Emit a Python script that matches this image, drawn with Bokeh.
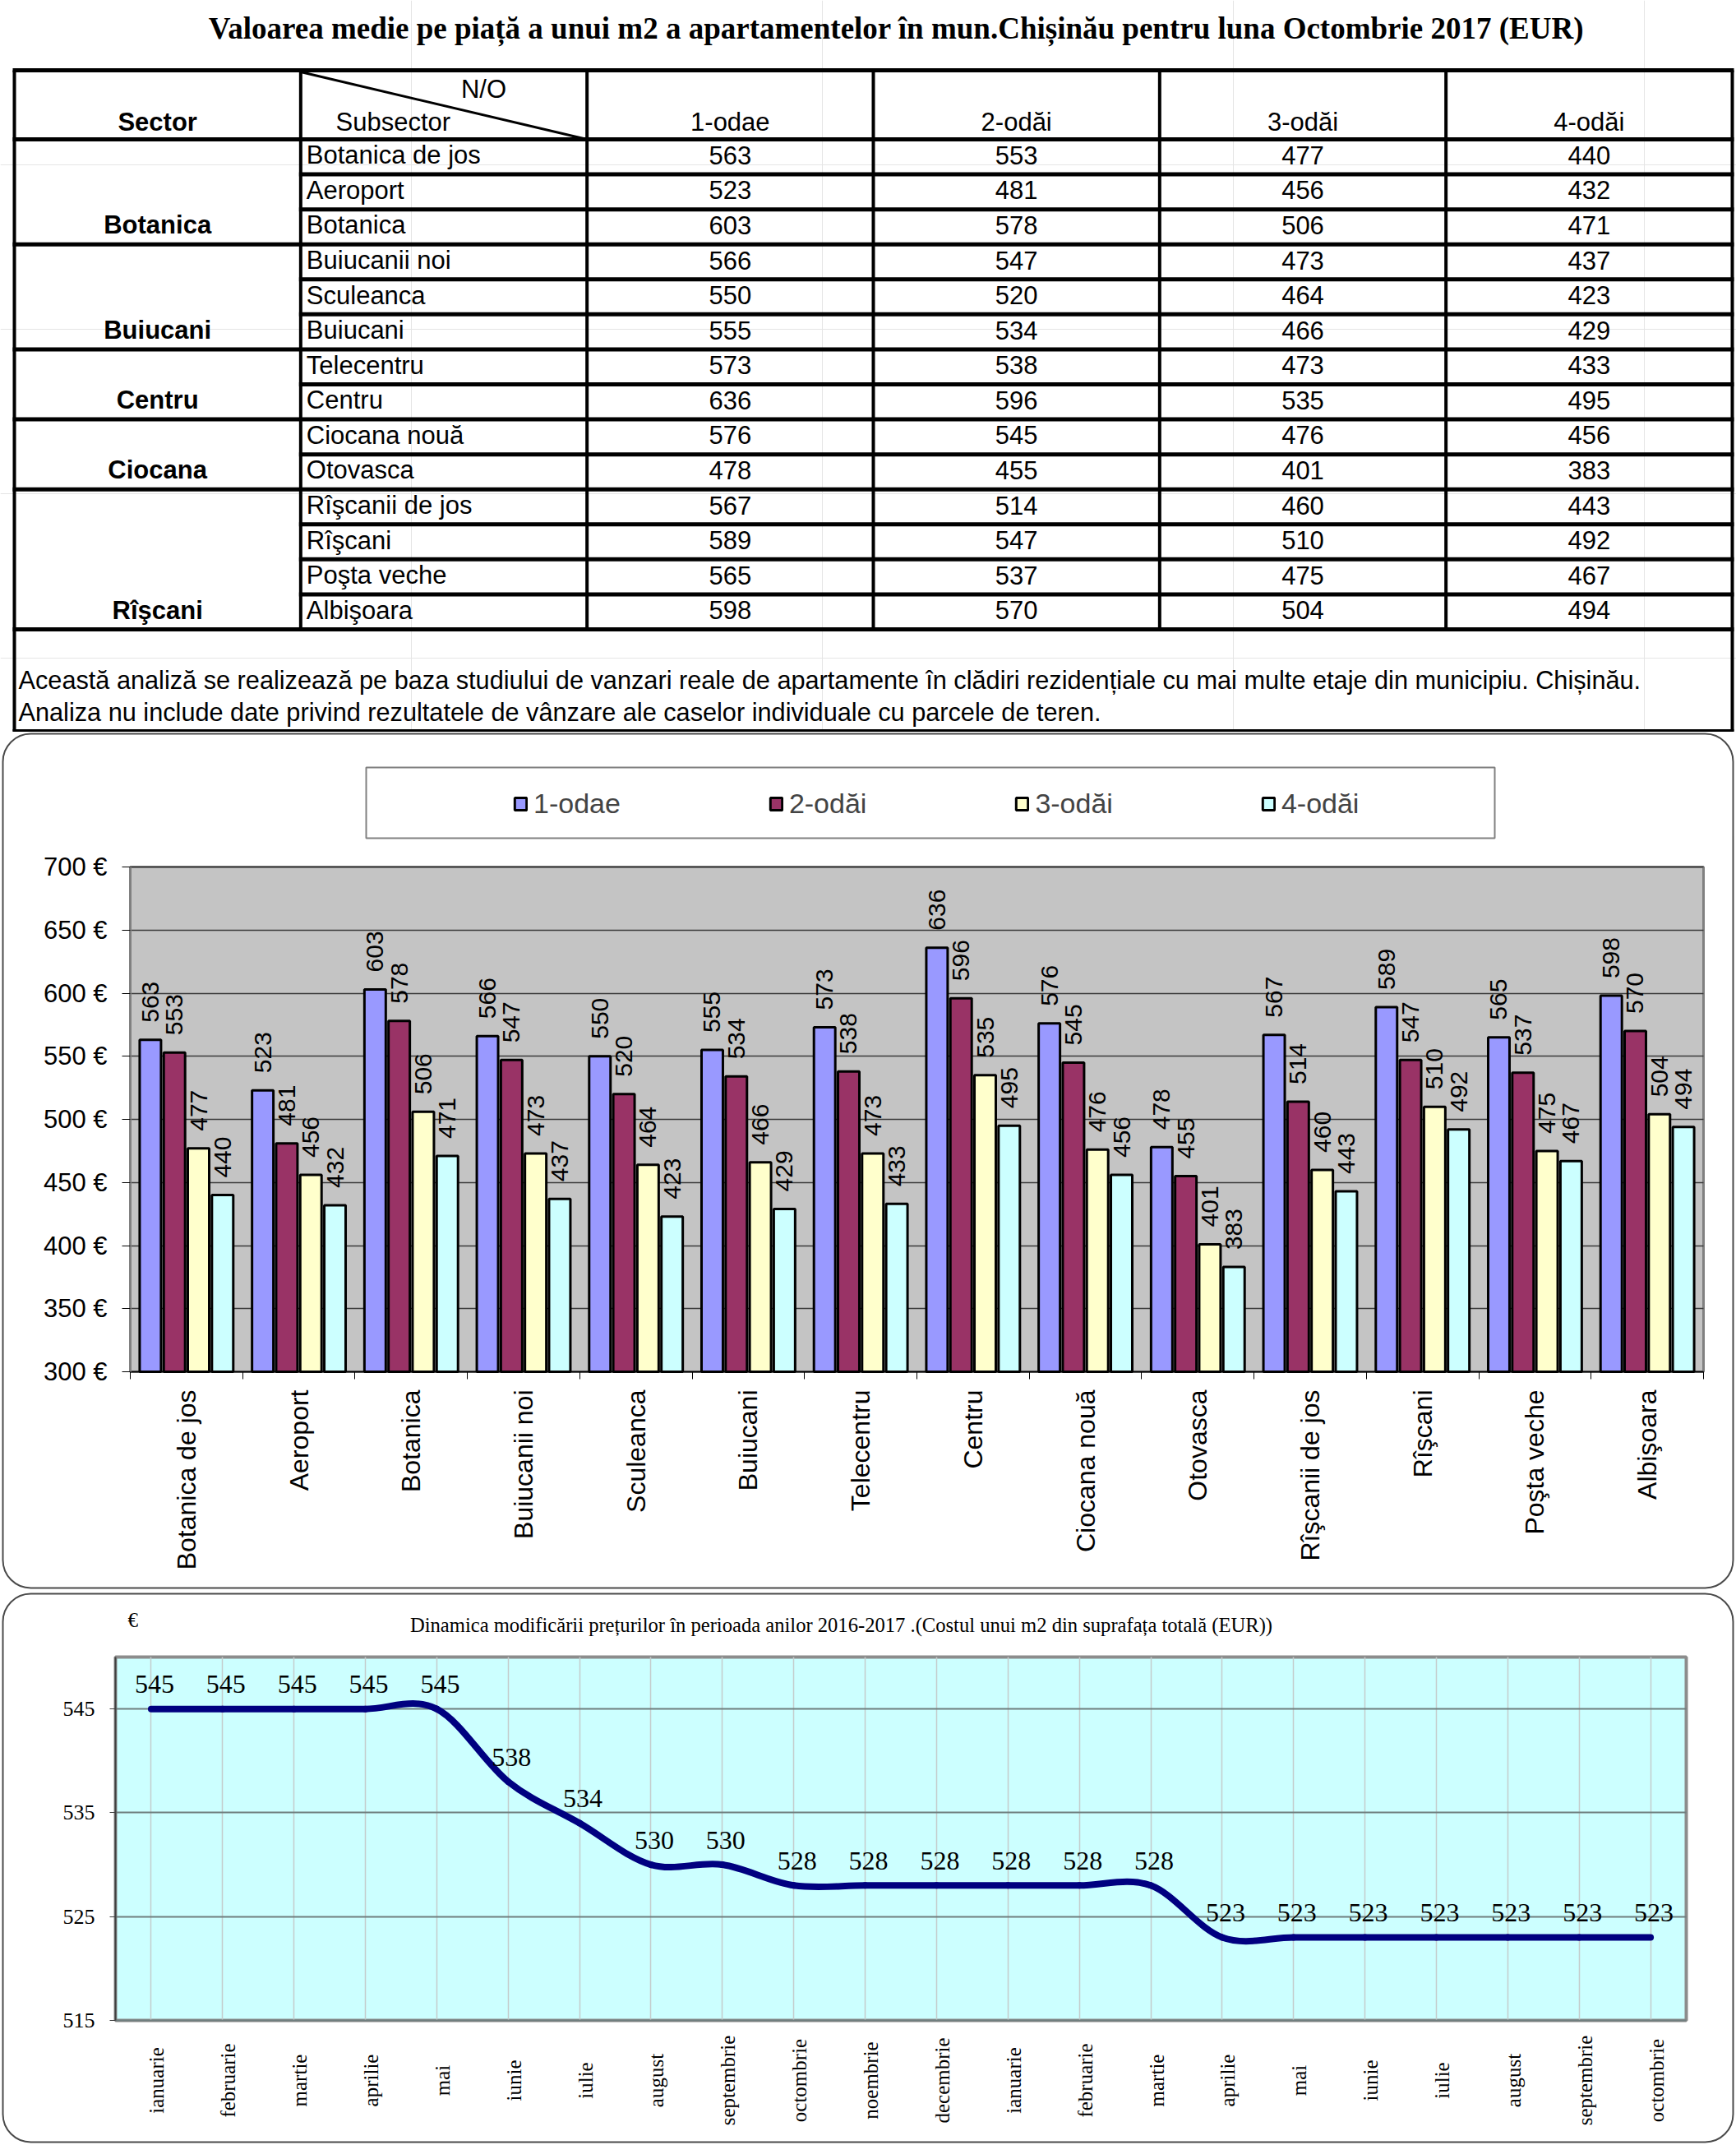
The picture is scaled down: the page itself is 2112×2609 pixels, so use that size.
import math
import numpy as np
from bokeh.plotting import figure
from bokeh.models import (ColumnDataSource, Range1d, FixedTicker, PrintfTickFormatter,
                          Legend, LegendItem, Grid)
from bokeh.layouts import column
from bokeh.embed import file_html
from bokeh.resources import INLINE
from bokeh.core.properties import value
from bokeh.transform import dodge

# ---------------- data ----------------
main_title = "Valoarea medie pe piață a unui m2 a apartamentelor în mun.Chișinău pentru luna Octombrie 2017 (EUR)"
header_sector = "Sector"
header_subsector = "Subsector"
header_no = "N/O"
room_types = ["1-odae", "2-odăi", "3-odăi", "4-odăi"]
sectors = ["Botanica", "Buiucani", "Centru", "Ciocana", "Rîşcani"]
sector_sizes = [3, 3, 2, 2, 4]
subsectors = ["Botanica de jos", "Aeroport", "Botanica", "Buiucanii noi", "Sculeanca", "Buiucani",
              "Telecentru", "Centru", "Ciocana nouă", "Otovasca", "Rîşcanii de jos", "Rîşcani",
              "Poşta veche", "Albişoara"]
price_1_odae = [563, 523, 603, 566, 550, 555, 573, 636, 576, 478, 567, 589, 565, 598]
price_2_odai = [553, 481, 578, 547, 520, 534, 538, 596, 545, 455, 514, 547, 537, 570]
price_3_odai = [477, 456, 506, 473, 464, 466, 473, 535, 476, 401, 460, 510, 475, 504]
price_4_odai = [440, 432, 471, 437, 423, 429, 433, 495, 456, 383, 443, 492, 467, 494]
note_lines = [
    "Această analiză se realizează pe baza studiului de vanzari reale de apartamente în clădiri rezidențiale cu mai multe etaje din municipiu. Chișinău.",
    "Analiza nu include date privind rezultatele de vânzare ale caselor individuale cu parcele de teren.",
]
bar_y_ticks = [300, 350, 400, 450, 500, 550, 600, 650, 700]

dyn_title = "Dinamica modificării prețurilor în perioada anilor 2016-2017 .(Costul unui m2 din suprafața totală (EUR))"
dyn_unit = "€"
months = ["ianuarie", "februarie", "martie", "aprilie", "mai", "iunie", "iulie", "august",
          "septembrie", "octombrie", "noembrie", "decembrie", "ianuarie", "februarie", "martie",
          "aprilie", "mai", "iunie", "iulie", "august", "septembrie", "octombrie"]
avg_price = [545, 545, 545, 545, 545, 538, 534, 530, 530, 528, 528, 528, 528, 528, 528,
             523, 523, 523, 523, 523, 523, 523]
dyn_y_ticks = [515, 525, 535, 545]

# ---------------- layout (page pixels) ----------------
W = 2112
TAB_TOP_PAGE, BAR_TOP, DYN_TOP, PAGE_BOT = 0, 890, 1934, 2608
TAB_H, BAR_H, DYN_H = BAR_TOP - TAB_TOP_PAGE, DYN_TOP - BAR_TOP, PAGE_BOT - DYN_TOP
SANS = "Liberation Sans"
SERIF = "Liberation Serif"
HAS_CROSS_BOUNDS = "cross_bounds" in Grid.properties()


def bare_fig(h, xr, yr, **kw):
    p = figure(width=W, height=h, x_range=xr, y_range=yr, output_backend="svg",
               toolbar_location=None, min_border=0, min_border_left=0, min_border_right=0,
               min_border_top=0, min_border_bottom=0, outline_line_color=None,
               background_fill_color="white", border_fill_color="white", **kw)
    return p


def mapper(left, right, top, bottom, x0, x1, y_top, y_bot):
    """pixel -> data mapping for a plot area spanning [left,right]x[top,bottom] pixels"""
    def xd(px):
        return x0 + (np.asarray(px, dtype=float) - left) / (right - left) * (x1 - x0)

    def yd(py):
        return y_top - (np.asarray(py, dtype=float) - top) / (bottom - top) * (y_top - y_bot)
    return xd, yd


# =============== TABLE ===============
TAB_L, TAB_R = 17, 2107
TAB_TOP, HEAD_BOT, TAB_BOT, NOTE_BOT = 85, 169, 765, 889
TFONT = "31px"

tab = bare_fig(TAB_H, Range1d(0, W), Range1d(TAB_H, 0),
               x_axis_location=None, y_axis_location=None)

n_rows = len(subsectors)
col_w = (TAB_R - TAB_L) / 6.0
col_x = [TAB_L + k * col_w for k in range(7)]
row_h = (TAB_BOT - HEAD_BOT) / n_rows
row_mid = [HEAD_BOT + (r + 0.5) * row_h - 2 for r in range(n_rows)]
group_end = [int(v) for v in np.cumsum(sector_sizes)]

hx0, hx1, hy = [], [], []
for yy in (TAB_TOP, HEAD_BOT, TAB_BOT, NOTE_BOT):
    hx0.append(TAB_L - 2); hx1.append(TAB_R + 2); hy.append(yy)
for k in range(1, n_rows):
    hx0.append((TAB_L if k in group_end else col_x[1]) - 2)
    hx1.append(TAB_R + 2)
    hy.append(HEAD_BOT + k * row_h)
tab.segment(x0=hx0, y0=hy, x1=hx1, y1=hy, line_width=5, line_color="black")

vx = [col_x[0], col_x[6]] + col_x[1:6]
vy1 = [NOTE_BOT, NOTE_BOT] + [TAB_BOT] * 5
tab.segment(x0=vx, y0=[TAB_TOP] * len(vx), x1=vx, y1=vy1, line_width=4, line_color="black")
tab.segment(x0=[col_x[1]], y0=[TAB_TOP + 2], x1=[col_x[2]], y1=[HEAD_BOT],
            line_width=3, line_color="black")

tab.text(x=[1090], y=[34], text=[main_title], text_font=value(SERIF),
         text_font_size="37px", text_font_style="bold", text_align="center",
         text_baseline="middle", text_color="black")

HEAD_MID = 148
sec_x = (col_x[0] + col_x[1]) / 2
bold_txt = [header_sector] + sectors
bold_y = [HEAD_MID] + [row_mid[e - 1] for e in group_end]
tab.text(x=[sec_x] * len(bold_txt), y=bold_y, text=bold_txt, text_font=value(SANS),
         text_font_size=TFONT, text_font_style="bold", text_align="center",
         text_baseline="middle", text_color="black")

c_x, c_y, c_t = [588], [108], [header_no]
for c, rt in enumerate(room_types):
    c_x.append((col_x[c + 2] + col_x[c + 3]) / 2); c_y.append(HEAD_MID); c_t.append(rt)
for c, series in enumerate([price_1_odae, price_2_odai, price_3_odai, price_4_odai]):
    cx = (col_x[c + 2] + col_x[c + 3]) / 2
    for r, v in enumerate(series):
        c_x.append(cx); c_y.append(row_mid[r]); c_t.append(str(v))
tab.text(x=c_x, y=c_y, text=c_t, text_font=value(SANS), text_font_size=TFONT,
         text_align="center", text_baseline="middle", text_color="black")

l_x = [408] + [col_x[1] + 7] * n_rows
l_y = [HEAD_MID] + row_mid
l_t = [header_subsector] + subsectors
tab.text(x=l_x, y=l_y, text=l_t, text_font=value(SANS), text_font_size=TFONT,
         text_align="left", text_baseline="middle", text_color="black")

tab.text(x=[22, 22], y=[827, 866], text=note_lines, text_font=value(SANS),
         text_font_size="30.7px", text_align="left", text_baseline="middle",
         text_color="black")

# =============== BAR CHART ===============
B_L, B_R, B_T, B_B = 158, 2072, 1054, 1668
NB = len(subsectors)
bxd, byd = mapper(B_L, B_R, B_T, B_B, -0.5, NB - 0.5, bar_y_ticks[-1], bar_y_ticks[0])

bar = bare_fig(BAR_H, Range1d(float(bxd(0)), float(bxd(W))),
               Range1d(float(byd(DYN_TOP)), float(byd(BAR_TOP))))

# outer rounded frame
bar.quad(left=[bxd(3)], right=[bxd(2108)], top=[byd(892)], bottom=[byd(1931)],
         fill_color=None, line_color="#4a4a4a", line_width=2, border_radius=34)
# plot area background & border
bar.quad(left=[-0.5], right=[NB - 0.5], bottom=[bar_y_ticks[0]], top=[bar_y_ticks[-1]],
         fill_color="#C4C4C4", line_color=None, level="image")
bar.quad(left=[-0.5], right=[NB - 0.5], bottom=[bar_y_ticks[0]], top=[bar_y_ticks[-1]],
         fill_color=None, line_color="#808080", line_width=3, level="underlay")
# legend box
bar.quad(left=[bxd(445)], right=[bxd(1818)], top=[byd(933)], bottom=[byd(1019)],
         fill_color="white", line_color="#808080", line_width=2)

bar.xgrid.visible = False
if HAS_CROSS_BOUNDS:
    g = bar.ygrid[0]
    g.ticker = FixedTicker(ticks=bar_y_ticks)
    g.bounds = (bar_y_ticks[0], bar_y_ticks[-1])
    g.cross_bounds = (-0.5, NB - 0.5)
    g.grid_line_color = "#3a3a3a"
    g.grid_line_width = 1.5
else:
    bar.ygrid.visible = False
    inner = bar_y_ticks[1:-1]
    bar.segment(x0=[-0.5] * len(inner), x1=[NB - 0.5] * len(inner), y0=inner, y1=inner,
                line_color="#3a3a3a", line_width=1.5, level="underlay")

bsrc = ColumnDataSource(dict(
    idx=list(range(NB)),
    v1=price_1_odae, v2=price_2_odai, v3=price_3_odai, v4=price_4_odai,
    t1=[str(v) for v in price_1_odae], t2=[str(v) for v in price_2_odai],
    t3=[str(v) for v in price_3_odai], t4=[str(v) for v in price_4_odai],
))
bar_colors = ["#9999FF", "#993366", "#FFFFCC", "#CCFFFF"]
pitch = 0.2143
offsets = [(k - 1.5) * pitch for k in range(4)]
items = []
for k in range(4):
    r = bar.vbar(x=dodge("idx", offsets[k]), top="v%d" % (k + 1), bottom=bar_y_ticks[0],
                 width=0.19, fill_color=bar_colors[k], line_color="black", line_width=3,
                 source=bsrc)
    bar.text(x=dodge("idx", offsets[k]), y="v%d" % (k + 1), text="t%d" % (k + 1), source=bsrc,
             angle=math.pi / 2, text_align="left", text_baseline="middle", y_offset=-21,
             text_font=value(SANS), text_font_size="30px", text_color="black")
    items.append(LegendItem(label=room_types[k], renderers=[r]))

legend = Legend(items=items, location=(624, BAR_H - (997 - BAR_TOP)), orientation="horizontal",
                padding=0, spacing=180, glyph_width=18, glyph_height=19, label_standoff=7,
                label_height=19, margin=0,
                label_text_font=SANS, label_text_font_size="34px",
                border_line_color=None, background_fill_alpha=0)
bar.add_layout(legend)

xa = bar.xaxis[0]
xa.fixed_location = bar_y_ticks[0]
xa.bounds = (-0.5, NB - 0.5)
xa.ticker = FixedTicker(ticks=list(range(NB)), minor_ticks=[i - 0.5 for i in range(NB + 1)])
xa.major_label_overrides = {i: s for i, s in enumerate(subsectors)}
xa.major_label_orientation = math.pi / 2
xa.major_tick_out = 0
xa.major_tick_in = 0
xa.minor_tick_out = 9
xa.minor_tick_in = 0
xa.minor_tick_line_color = "black"
xa.major_label_standoff = 13
xa.major_label_text_font = SANS
xa.major_label_text_font_size = "32px"
xa.major_label_text_color = "black"
xa.axis_line_color = "black"
xa.axis_line_width = 1.5

ya = bar.yaxis[0]
ya.fixed_location = -0.5
ya.bounds = (bar_y_ticks[0], bar_y_ticks[-1])
ya.ticker = FixedTicker(ticks=bar_y_ticks)
ya.formatter = PrintfTickFormatter(format="%d €")
ya.major_tick_out = 10
ya.major_tick_in = 0
ya.minor_tick_out = 0
ya.minor_tick_in = 0
ya.major_tick_line_color = "black"
ya.major_label_standoff = 18
ya.major_label_text_font = SANS
ya.major_label_text_font_size = "31px"
ya.major_label_text_color = "black"
ya.axis_line_color = "#808080"
ya.axis_line_width = 3

# =============== DYNAMICS LINE CHART ===============
L_L, L_R, L_T, L_B = 140, 2051, 2015, 2457
NM = len(months)
Y_LO, Y_HI = 515, 550
lxd, lyd = mapper(L_L, L_R, L_T, L_B, -0.5, NM - 0.5, Y_HI, Y_LO)

ln = bare_fig(DYN_H, Range1d(float(lxd(0)), float(lxd(W))),
              Range1d(float(lyd(PAGE_BOT)), float(lyd(DYN_TOP))))

ln.quad(left=[lxd(3)], right=[lxd(2108)], top=[lyd(1938)], bottom=[lyd(2605)],
        fill_color=None, line_color="#4a4a4a", line_width=2, border_radius=34)
ln.quad(left=[-0.5], right=[NM - 0.5], bottom=[Y_LO], top=[Y_HI],
        fill_color="#CCFFFF", line_color=None, level="image")
ln.quad(left=[-0.5], right=[NM - 0.5], bottom=[Y_LO], top=[Y_HI],
        fill_color=None, line_color="#8c8c8c", line_width=4, level="underlay")

if HAS_CROSS_BOUNDS:
    gx = ln.xgrid[0]
    gx.ticker = FixedTicker(ticks=list(range(NM)))
    gx.bounds = (-0.5, NM - 0.5)
    gx.cross_bounds = (Y_LO, Y_HI)
    gx.grid_line_color = "#c4cccc"
    gx.grid_line_width = 1.5
    gy = ln.ygrid[0]
    gy.ticker = FixedTicker(ticks=dyn_y_ticks)
    gy.bounds = (Y_LO, Y_HI)
    gy.cross_bounds = (-0.5, NM - 0.5)
    gy.grid_line_color = "#6f7f7f"
    gy.grid_line_width = 2
else:
    ln.xgrid.visible = False
    ln.ygrid.visible = False
    ln.segment(x0=list(range(NM)), x1=list(range(NM)), y0=[Y_LO] * NM, y1=[Y_HI] * NM,
               line_color="#c4cccc", line_width=1.5, level="underlay")
    inner = dyn_y_ticks[1:]
    ln.segment(x0=[-0.5] * len(inner), x1=[NM - 0.5] * len(inner), y0=inner, y1=inner,
               line_color="#6f7f7f", line_width=2, level="underlay")

ln.xaxis.visible = False
lya = ln.yaxis[0]
lya.fixed_location = -0.5
lya.bounds = (Y_LO, Y_HI)
lya.ticker = FixedTicker(ticks=dyn_y_ticks)
lya.major_tick_out = 7
lya.major_tick_in = 0
lya.minor_tick_out = 0
lya.minor_tick_in = 0
lya.major_tick_line_color = "#404040"
lya.major_label_standoff = 18
lya.major_label_text_font = SERIF
lya.major_label_text_font_size = "26px"
lya.major_label_text_color = "black"
lya.axis_line_color = "#404040"
lya.axis_line_width = 2

# smoothed line (Catmull-Rom style bezier segments through the data points)
xs = np.arange(len(avg_price), dtype=float)
ys = np.array(avg_price, dtype=float)
n = len(xs)
i0 = np.arange(n - 1)
i1 = i0 + 1
ip = np.maximum(i0 - 1, 0)
inn = np.minimum(i1 + 1, n - 1)
seg = ColumnDataSource(dict(
    x0=xs[i0], y0=ys[i0], x1=xs[i1], y1=ys[i1],
    cx0=xs[i0] + (xs[i1] - xs[ip]) / 6.0, cy0=ys[i0] + (ys[i1] - ys[ip]) / 6.0,
    cx1=xs[i1] - (xs[inn] - xs[i0]) / 6.0, cy1=ys[i1] - (ys[inn] - ys[i0]) / 6.0,
))
ln.bezier(x0="x0", y0="y0", x1="x1", y1="y1", cx0="cx0", cy0="cy0", cx1="cx1", cy1="cy1",
          source=seg, line_color="#000080", line_width=8, line_cap="round")

psrc = ColumnDataSource(dict(x=list(range(n)), y=avg_price, t=[str(v) for v in avg_price],
                             m=months, my=[float(lyd(2530))] * n))
ln.text(x="x", y="y", text="t", source=psrc, text_align="center", text_baseline="middle",
        x_offset=4, y_offset=-30, text_font=value(SERIF), text_font_size="32px",
        text_color="black")
ln.text(x="x", y="my", text="m", source=psrc, angle=math.pi / 2, text_align="center",
        text_baseline="middle", x_offset=7, text_font=value(SERIF), text_font_size="25px",
        text_color="black")

ln.text(x=[lxd(1023)], y=[lyd(1976)], text=[dyn_title], text_font=value(SERIF),
        text_font_size="24.6px", text_align="center", text_baseline="middle",
        text_color="black")
ln.text(x=[lxd(155)], y=[lyd(1970)], text=[dyn_unit], text_font=value(SERIF),
        text_font_size="25px", text_align="left", text_baseline="middle",
        text_color="black")

page = column(tab, bar, ln, spacing=0)
open("out.html", "w").write(file_html(page, INLINE))
